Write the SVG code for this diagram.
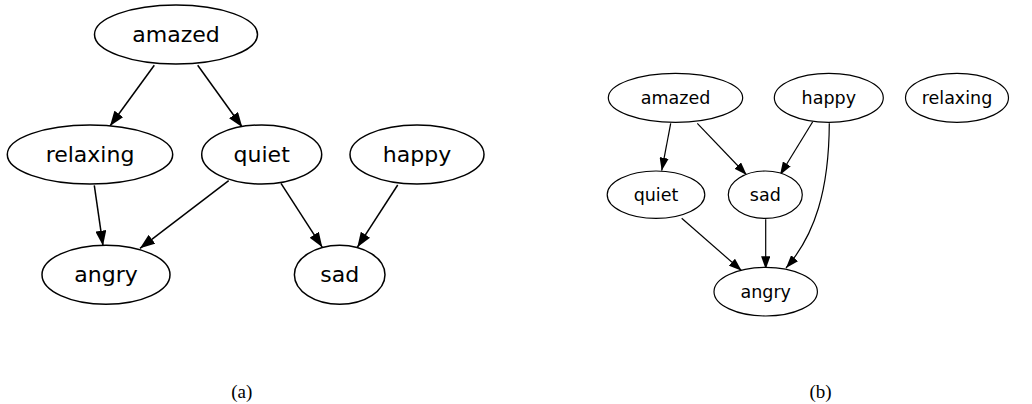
<svg xmlns="http://www.w3.org/2000/svg" width="1032" height="404" viewBox="0 0 1032 404">
<style>
.n ellipse{fill:#fff;stroke:#000;stroke-width:1.5}
.m ellipse{fill:#fff;stroke:#000;stroke-width:1.2}
.n text{font-family:"DejaVu Sans",sans-serif;font-size:22px;text-anchor:middle;fill:#000}
.m text{font-family:"DejaVu Sans",sans-serif;font-size:17.5px;text-anchor:middle;fill:#000}
.e1 path{fill:none;stroke:#000;stroke-width:1.5;marker-end:url(#a1)}
.e2 path{fill:none;stroke:#000;stroke-width:1.2;marker-end:url(#a2)}
.cap{font-family:"Liberation Serif",serif;font-size:19px;text-anchor:middle;fill:#000}
</style>
<defs>
<marker id="a1" viewBox="0 0 15 11" refX="15" refY="5.5" markerWidth="15" markerHeight="11" markerUnits="userSpaceOnUse" orient="auto"><path d="M0,0 L15,5.5 L0,11 z" fill="#000"/></marker>
<marker id="a2" viewBox="0 0 13 9.2" refX="13" refY="4.6" markerWidth="13" markerHeight="9.2" markerUnits="userSpaceOnUse" orient="auto"><path d="M0,0 L13,4.6 L0,9.2 z" fill="#000"/></marker>
</defs>
<rect width="1032" height="404" fill="#fff"/>
<g id="edges-a" class="e1">
<path d="M154.3,65.3 L110,126"/>
<path d="M197.7,65.3 L242.3,127.3"/>
<path d="M94.3,185.3 L103,245.7"/>
<path d="M228.7,180.7 L140,248.3"/>
<path d="M281,183.3 L322.3,247.3"/>
<path d="M397.7,185 L357.3,247.3"/>
</g>
<g id="a-amazed" class="n"><ellipse cx="176" cy="34.5" rx="81.5" ry="29.5"/><text x="176" y="42">amazed</text></g>
<g id="a-relaxing" class="n"><ellipse cx="90" cy="154.5" rx="82.7" ry="29.5"/><text x="90" y="162">relaxing</text></g>
<g id="a-quiet" class="n"><ellipse cx="261.7" cy="154.5" rx="60" ry="29.5"/><text x="261.7" y="162">quiet</text></g>
<g id="a-happy" class="n"><ellipse cx="417" cy="154.5" rx="67" ry="29.5"/><text x="417" y="162">happy</text></g>
<g id="a-angry" class="n"><ellipse cx="106" cy="274.7" rx="64" ry="29.5"/><text x="106" y="282.2">angry</text></g>
<g id="a-sad" class="n"><ellipse cx="339.7" cy="274.7" rx="45.3" ry="29.5"/><text x="339.7" y="282.2">sad</text></g>
<g id="edges-b" class="e2">
<path d="M670.7,123.3 L661.7,170.7"/>
<path d="M697.3,123.3 L746.7,175"/>
<path d="M812.7,121.7 L780,175"/>
<path d="M829.3,123.3 C829,190 815,235 786,268"/>
<path d="M681.7,218.3 L741.7,270.7"/>
<path d="M765.7,219.3 L765.7,269.3"/>
</g>
<g id="b-amazed" class="m"><ellipse cx="675.5" cy="97.8" rx="67.2" ry="24.5"/><text x="675.5" y="103.8">amazed</text></g>
<g id="b-happy" class="m"><ellipse cx="828.8" cy="97.8" rx="54.5" ry="24.5"/><text x="828.8" y="103.8">happy</text></g>
<g id="b-relaxing" class="m"><ellipse cx="957" cy="97.8" rx="51.5" ry="24.5"/><text x="957" y="103.8">relaxing</text></g>
<g id="b-quiet" class="m"><ellipse cx="656" cy="194.7" rx="48.8" ry="23.7"/><text x="656" y="200.7">quiet</text></g>
<g id="b-sad" class="m"><ellipse cx="765.3" cy="194.7" rx="37" ry="23.7"/><text x="765.3" y="200.7">sad</text></g>
<g id="b-angry" class="m"><ellipse cx="765.7" cy="291.7" rx="51.7" ry="24.3"/><text x="765.7" y="297.7">angry</text></g>
<text class="cap" x="241.7" y="398">(a)</text>
<text class="cap" x="820.5" y="398">(b)</text>
</svg>
